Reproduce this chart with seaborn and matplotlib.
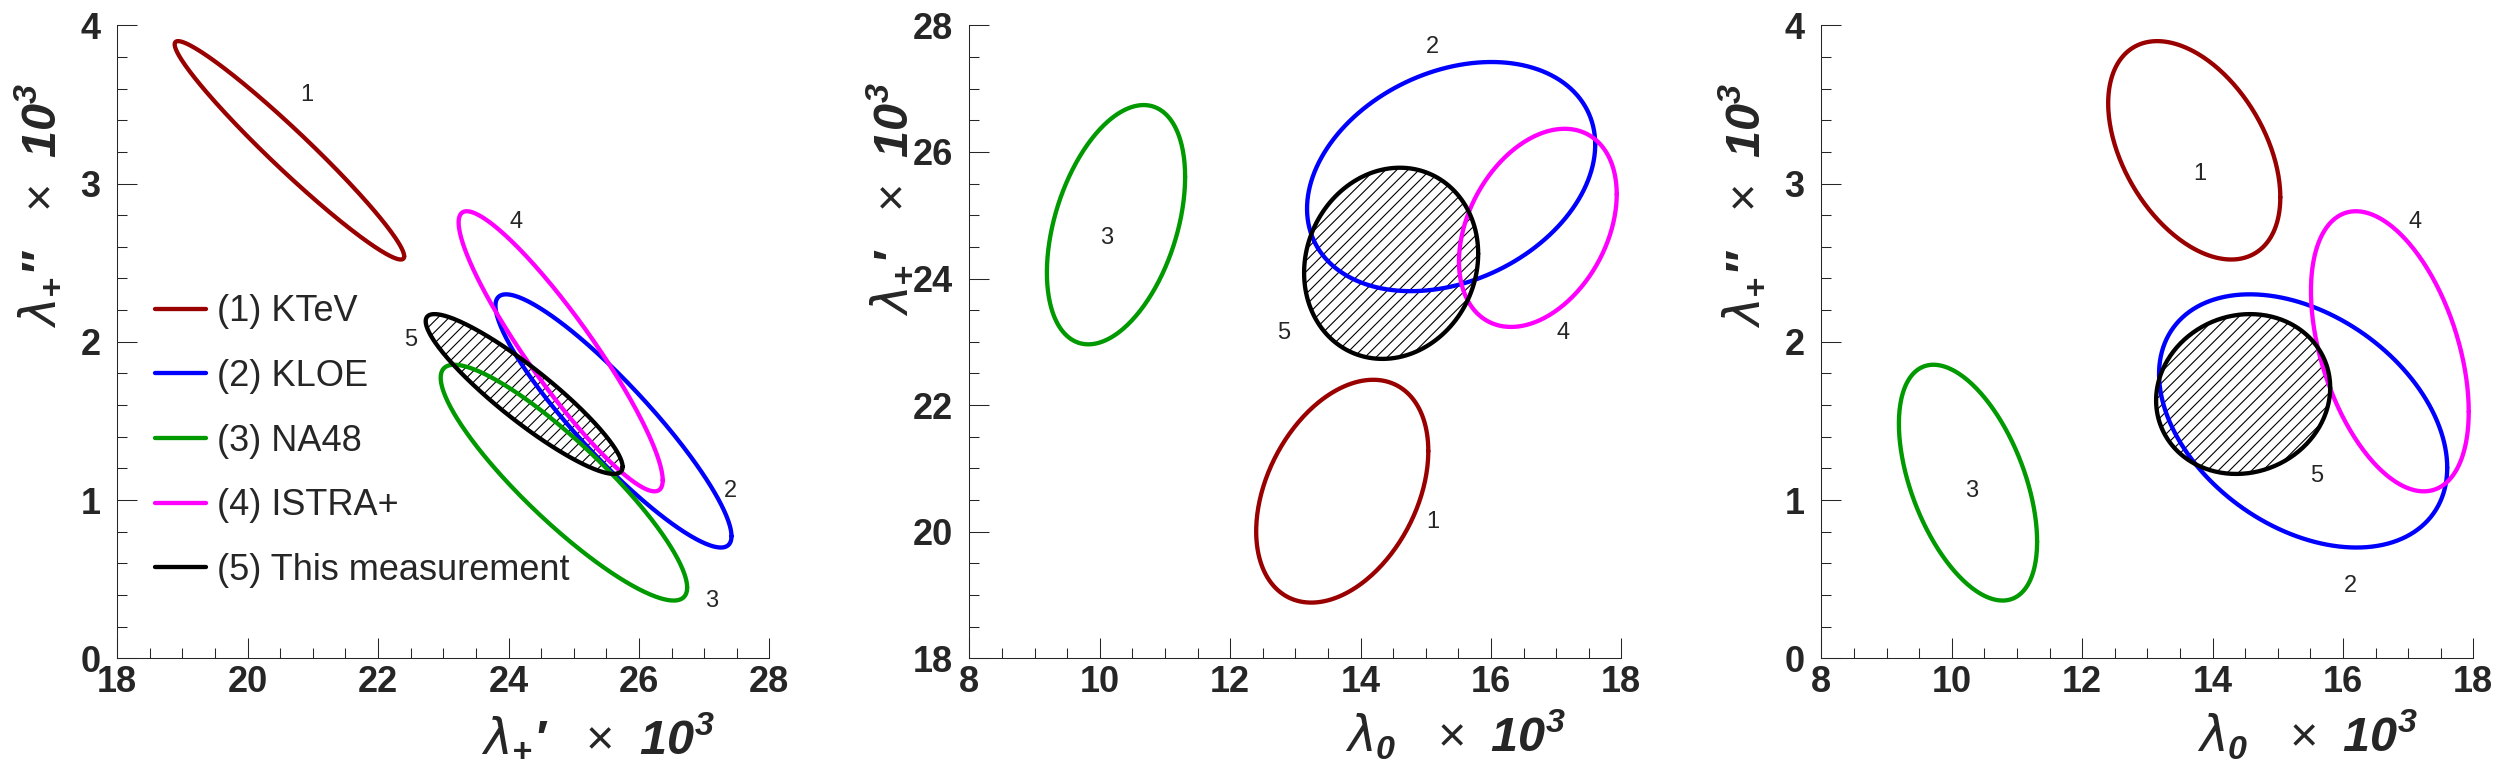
import numpy as np
import pandas as pd
import matplotlib
matplotlib.use("Agg")
import matplotlib.pyplot as plt
from matplotlib.ticker import MultipleLocator, FormatStrFormatter
import seaborn as sns

# experiments and their 1-sigma contours
labels = ["(1) KTeV", "(2) KLOE", "(3) NA48", "(4) ISTRA+", "(5) This measurement"]
colors = ["#990000", "#0000ff", "#009900", "#ff00ff", "#000000"]

# lambda+' (x10^3)
lp1 = [20.64, 25.61, 24.85, 24.80, 24.24]
lp1_err = [1.76, 1.81, 1.89, 1.565, 1.51]
# lambda+'' (x10^3)
lp2 = [3.21, 1.50, 1.11, 1.94, 1.67]
lp2_err = [0.69, 0.80, 0.745, 0.885, 0.505]
# lambda0 (x10^3)
l0 = [13.72, 15.39, 10.25, 16.72, 14.47]
l0_err = [1.32, 2.21, 1.06, 1.21, 1.335]

# correlations for each pair
rho_p1_p2 = [-0.97, -0.91, -0.89, -0.92, -0.91]
rho_0_p1 = [0.36, 0.28, 0.40, 0.34, 0.10]
rho_0_p2 = [-0.43, -0.37, -0.50, -0.43, 0.08]

numbers = ["1", "2", "3", "4", "5"]


def contour(cx, cy, sx, sy, r):
    t = np.linspace(0, 2 * np.pi, 300)
    return cx + sx * np.cos(t), cy + sy * (r * np.cos(t) + np.sqrt(1 - r * r) * np.sin(t))


sns.set_style("ticks")
plt.rcParams['font.family'] = ['Liberation Sans', 'DejaVu Sans']
plt.rcParams['mathtext.fontset'] = 'custom'
plt.rcParams['mathtext.rm'] = 'Liberation Sans'
plt.rcParams['mathtext.it'] = 'DejaVu Sans:italic'
plt.rcParams['mathtext.bf'] = 'Liberation Sans:bold:italic'
plt.rcParams['hatch.linewidth'] = 0.8

fig = plt.figure(figsize=(25, 7.72), dpi=100)
lefts = [117.3 / 2500, 969.3 / 2500, 1821.3 / 2500]
bot = (772 - 658.3) / 772
w, h = 652 / 2500, 633 / 772

lab_p1 = r"$\lambda_{\mathbf{+}}\mathbf{′}\ \ \times\ \mathbf{10^{3}}$"
lab_p2 = r"$\lambda_{\mathbf{+}}\mathbf{″}\ \ \times\ \mathbf{10^{3}}$"
lab_0 = r"$\lambda_{\mathbf{0}}\ \ \times\ \mathbf{10^{3}}$"

panels = [
    dict(x=lp1, xe=lp1_err, y=lp2, ye=lp2_err, rho=rho_p1_p2, xlim=(18, 28), ylim=(0, 4),
         xmaj=2, xmin=0.5, ymaj=1, ymin=0.2, xlab=lab_p1, ylab=lab_p2,
         txt=[(20.90, 3.56), (27.41, 1.06), (27.12, 0.36), (24.11, 2.76), (22.50, 2.01)]),
    dict(x=l0, xe=l0_err, y=lp1, ye=lp1_err, rho=rho_0_p1, xlim=(8, 18), ylim=(18, 28),
         xmaj=2, xmin=0.5, ymaj=2, ymin=0.5, xlab=lab_0, ylab=lab_p1,
         txt=[(15.11, 20.15), (15.11, 27.65), (10.10, 24.64), (17.10, 23.14), (12.82, 23.14)]),
    dict(x=l0, xe=l0_err, y=lp2, ye=lp2_err, rho=rho_0_p2, xlim=(8, 18), ylim=(0, 4),
         xmaj=2, xmin=0.5, ymaj=1, ymin=0.2, xlab=lab_0, ylab=lab_p2,
         txt=[(13.80, 3.06), (16.12, 0.46), (10.30, 1.06), (17.10, 2.76), (15.60, 1.15)]),
]

for i, p in enumerate(panels):
    ax = fig.add_axes([lefts[i], bot, w, h])
    rows = []
    for k in range(len(labels)):
        ex, ey = contour(p['x'][k], p['y'][k], p['xe'][k], p['ye'][k], p['rho'][k])
        rows.append(pd.DataFrame({'x': ex, 'y': ey, 'exp': labels[k]}))
        if k == 4:
            ax.fill(ex, ey, facecolor='none', edgecolor='black', linewidth=0, hatch='///')
    df = pd.concat(rows, ignore_index=True)
    sns.lineplot(data=df, x='x', y='y', hue='exp', palette=colors, sort=False,
                 estimator=None, linewidth=3.1, ax=ax, legend=(i == 0))

    for k, (tx, ty) in enumerate(p['txt']):
        ax.text(tx, ty, numbers[k], fontsize=17, ha='center', va='center')

    ax.set_xlim(*p['xlim'])
    ax.set_ylim(*p['ylim'])
    ax.xaxis.set_major_locator(MultipleLocator(p['xmaj']))
    ax.xaxis.set_minor_locator(MultipleLocator(p['xmin']))
    ax.yaxis.set_major_locator(MultipleLocator(p['ymaj']))
    ax.yaxis.set_minor_locator(MultipleLocator(p['ymin']))
    ax.xaxis.set_major_formatter(FormatStrFormatter('%d'))
    ax.yaxis.set_major_formatter(FormatStrFormatter('%d'))
    ax.tick_params(which='both', direction='in', top=False, right=False, width=0.75)
    ax.tick_params(which='major', length=14.4)
    ax.tick_params(which='minor', length=7.2)
    ax.tick_params(axis='x', which='major', pad=5, labelsize=26)
    ax.tick_params(axis='y', which='major', pad=12, labelsize=26)
    for t in ax.get_xticklabels() + ax.get_yticklabels():
        t.set_fontweight('bold')
    for s in ['top', 'right']:
        ax.spines[s].set_visible(False)
    for s in ['left', 'bottom']:
        ax.spines[s].set_linewidth(0.75)
    ax.set_xlabel('')
    ax.set_ylabel('')
    ax.text(1 - 55 / 652, -94 / 633, p['xlab'], transform=ax.transAxes,
            ha='right', va='baseline', fontsize=35)
    ax.text(-63 / 652, 1 - 57 / 633, p['ylab'], transform=ax.transAxes, rotation=90,
            rotation_mode='anchor', ha='right', va='baseline', fontsize=35)

    if i == 0:
        leg = ax.get_legend()
        hs = leg.legend_handles
        ls = [t.get_text() for t in leg.texts]
        for hh in hs:
            hh.set_linewidth(3.1)
        ax.legend(hs, ls, loc='center left', bbox_to_anchor=(0.058, 0.343), frameon=False,
                  fontsize=26, handlelength=1.4, handletextpad=0.3, labelspacing=0.82,
                  borderpad=0, borderaxespad=0)

fig.savefig("out.png", dpi=100)
